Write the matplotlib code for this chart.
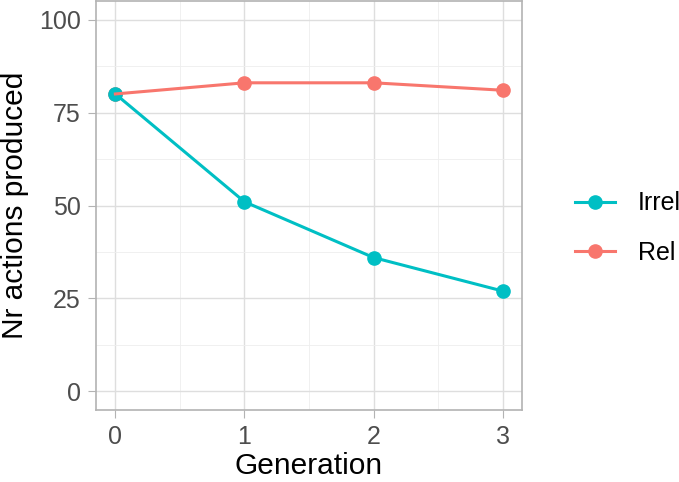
import matplotlib
matplotlib.use("Agg")
import matplotlib.pyplot as plt
from matplotlib.lines import Line2D

plt.rcParams['font.family'] = ['Liberation Sans', 'DejaVu Sans']

generation = [0, 1, 2, 3]
irrel = [80, 51, 36, 27]
rel = [80, 83, 83, 81]
xticks = [0, 1, 2, 3]
yticks = [0, 25, 50, 75, 100]

c_irrel = '#00BFC4'
c_rel = '#F8766D'

fig = plt.figure(figsize=(6.79, 4.82), dpi=100)
ax = fig.add_axes([96/679, 1 - 410/482, (522-96)/679, (410-1)/482])

ax.set_xlim(-0.15, 3.15)
ax.set_ylim(-5, 105)
ax.set_xticks(xticks)
ax.set_yticks(yticks)
ax.set_xticks([0.5, 1.5, 2.5], minor=True)
ax.set_yticks([12.5, 37.5, 62.5, 87.5], minor=True)
ax.grid(which='major', color='#DEDEDE', linewidth=1.0)
ax.grid(which='minor', color='#EEEEEE', linewidth=0.6)
ax.set_axisbelow(True)
for s in ax.spines.values():
    s.set_color('#B3B3B3')
    s.set_linewidth(1.2)
ax.tick_params(which='major', colors='#B3B3B3', labelcolor='#4D4D4D', labelsize=18, length=6, pad=5)
ax.tick_params(which='minor', length=0)

ax.plot(generation, rel, 'o', color=c_rel, markersize=9.5, zorder=3)
ax.plot(generation, irrel, 'o', color=c_irrel, markersize=9.5, zorder=4)
ax.plot(generation, irrel, '-', color=c_irrel, linewidth=2.2, zorder=5)
ax.plot(generation, rel, '-', color=c_rel, linewidth=2.2, zorder=6)

ax.set_xlabel('Generation', fontsize=21.5, labelpad=2)
ax.set_ylabel('Nr actions produced', fontsize=21.5, labelpad=7)

handles = [Line2D([0], [0], color=c_irrel, marker='o', markersize=9.5, linewidth=2.2),
           Line2D([0], [0], color=c_rel, marker='o', markersize=9.5, linewidth=2.2)]
fig.legend(handles, ['Irrel', 'Rel'], loc='center left', bbox_to_anchor=(575/679, 1 - 228/482),
           frameon=False, fontsize=18, handlelength=1.6, labelspacing=1.0, handletextpad=0.9,
           borderpad=0, borderaxespad=0)

fig.savefig('out.png', dpi=100)
